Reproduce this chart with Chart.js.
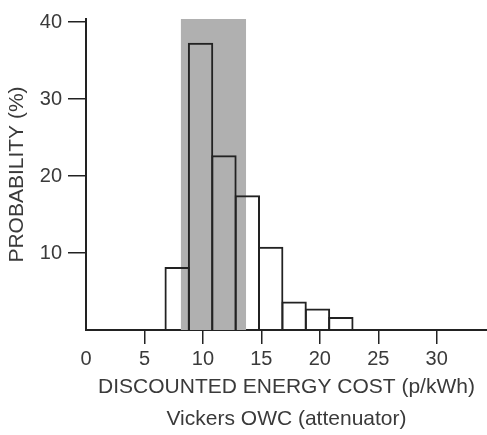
<!DOCTYPE html>
<html>
<head>
<meta charset="utf-8">
<script src="https://cdn.jsdelivr.net/npm/chart.js@4/dist/chart.umd.min.js"></script>
<style>
  html, body { margin: 0; padding: 0; background: #fff; }
</style>
</head>
<body>
<canvas id="hist" width="487" height="435"></canvas>
<script>
// bin centres (p/kWh), each bin 2 p/kWh wide
var binCenters = [7.8, 9.8, 11.8, 13.8, 15.8, 17.8, 19.8, 21.8];
// probability (%)
var probability = [8.2, 37.3, 22.7, 17.5, 10.8, 3.7, 2.8, 1.7];
// shaded range on the cost axis
var bandStart = 8.1;
var bandEnd = 13.7;
var bandTop = 40.4;

var xTicks = [0, 5, 10, 15, 20, 25, 30];
var yTicks = [10, 20, 30, 40];

var xTitle = ['DISCOUNTED ENERGY COST (p/kWh)', 'Vickers OWC (attenuator)'];
var yTitle = 'PROBABILITY (%)';

var ink = '#222';
var textCol = '#3a3a3a';
var fontFam = '"Liberation Sans", Arial, Helvetica, sans-serif';

var bars = [];
for (var i in binCenters) {
	bars.push({x: binCenters[i], y: probability[i]});
}

var ctx = document.getElementById('hist');

var chart = new Chart(ctx, {
	type: 'bar',
	data: {
		datasets: [
			{
				type: 'bar',
				data: bars,
				backgroundColor: 'rgba(0,0,0,0)',
				borderColor: ink,
				borderWidth: 2,
				inflateAmount: 0,
				// a touch over 1 so neighbouring bars share one 2px edge
				barPercentage: 1.085,
				categoryPercentage: 1
			},
			{
				type: 'line',
				data: [{x: bandStart, y: bandTop}, {x: bandEnd, y: bandTop}],
				fill: 'origin',
				backgroundColor: '#b0b0b0',
				borderColor: 'rgba(0,0,0,0)',
				borderWidth: 0,
				pointRadius: 0
			}
		]
	},
	options: {
		responsive: false,
		animation: false,
		devicePixelRatio: 1,
		layout: { padding: { top: 19, right: 0, bottom: 0, left: 0 } },
		plugins: {
			legend: { display: false },
			tooltip: { enabled: false }
		},
		scales: {
			x: {
				type: 'linear',
				min: 0,
				max: 34.3,
				offset: false,
				afterBuildTicks: function(scale) {
					scale.ticks = xTicks.map(function(v) { return {value: v}; });
				},
				afterFit: function(scale) { scale.height = 105; },
				grid: {
					offset: false,
					drawOnChartArea: false,
					drawTicks: true,
					tickLength: 14,
					lineWidth: 1.5,
					color: function(c) { return c.tick && c.tick.value === 0 ? 'rgba(0,0,0,0)' : ink; }
				},
				border: { display: true, color: ink, width: 2 },
				ticks: {
					color: textCol,
					padding: 3,
					maxRotation: 0,
					font: { family: fontFam, size: 20 }
				},
				title: {
					display: true,
					text: xTitle,
					color: textCol,
					padding: { top: 0, bottom: 0 },
					font: { family: fontFam, size: 21, lineHeight: '32px' }
				}
			},
			y: {
				min: 0,
				max: bandTop,
				afterBuildTicks: function(scale) {
					scale.ticks = yTicks.map(function(v) { return {value: v}; });
				},
				afterFit: function(scale) { scale.width = 86; },
				grid: {
					drawOnChartArea: false,
					drawTicks: true,
					tickLength: 18,
					lineWidth: 1.5,
					color: ink
				},
				border: { display: true, color: ink, width: 2 },
				ticks: {
					color: textCol,
					padding: 6,
					font: { family: fontFam, size: 20 }
				},
				title: {
					display: true,
					text: yTitle,
					color: textCol,
					padding: { top: 5, bottom: 0 },
					font: { family: fontFam, size: 21 }
				}
			}
		}
	}
});
</script>
</body>
</html>
